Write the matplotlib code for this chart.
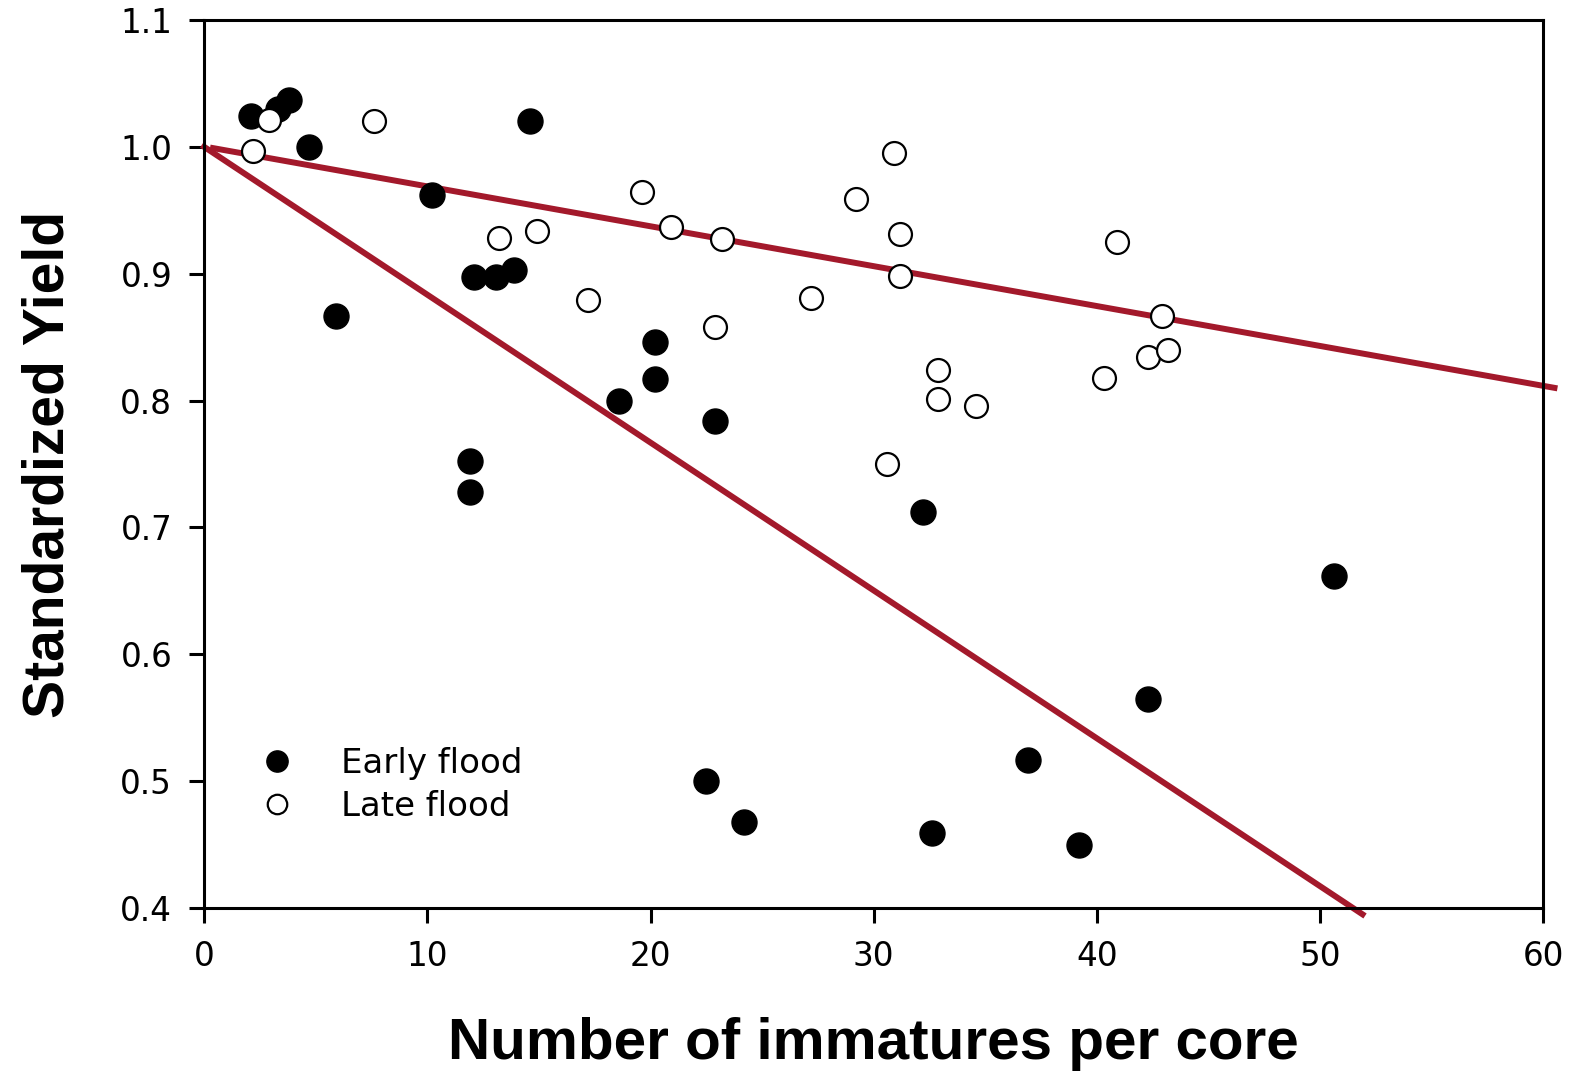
import matplotlib
matplotlib.use("Agg")
import matplotlib.pyplot as plt
import numpy as np

plt.rcParams['font.family'] = ['Liberation Sans', 'DejaVu Sans']

early_x = [2.1, 3.3, 3.8, 4.7, 14.6, 10.2, 5.9, 12.1, 13.1, 13.9, 11.9, 11.9,
           18.6, 20.2, 20.2, 22.9, 32.2, 50.6, 42.3, 36.9, 22.5, 24.2, 32.6, 39.2]
early_y = [1.024, 1.030, 1.037, 1.000, 1.020, 0.962, 0.867, 0.897, 0.897, 0.903, 0.752, 0.728,
           0.800, 0.846, 0.817, 0.784, 0.712, 0.662, 0.565, 0.517, 0.500, 0.468, 0.459, 0.450]

late_x = [2.2, 2.9, 7.6, 19.6, 20.9, 23.2, 13.2, 14.9, 17.2, 22.9, 27.2, 29.2, 30.9,
          31.2, 31.2, 32.9, 32.9, 34.6, 30.6, 40.9, 42.9, 42.3, 43.2, 40.3]
late_y = [0.997, 1.021, 1.020, 0.964, 0.937, 0.927, 0.928, 0.934, 0.879, 0.858, 0.881, 0.959, 0.995,
          0.931, 0.898, 0.824, 0.801, 0.796, 0.750, 0.925, 0.867, 0.834, 0.840, 0.818]

late_fit_x = [0.4, 60.5]
late_fit_y = [0.999, 0.810]
early_fit_x = [0.0, 51.9]
early_fit_y = [1.000, 0.395]

xticks = [0, 10, 20, 30, 40, 50, 60]
yticks = [0.4, 0.5, 0.6, 0.7, 0.8, 0.9, 1.0, 1.1]

fig = plt.figure(figsize=(15.7, 10.73), dpi=100)
ax = fig.add_axes([0.130, 0.1538, 0.853, 0.8276])

red = '#A3192B'
ax.plot(late_fit_x, late_fit_y, color=red, lw=4.3, clip_on=False, zorder=2)
ax.plot(early_fit_x, early_fit_y, color=red, lw=4.3, clip_on=False, zorder=2)

ax.plot(early_x, early_y, 'o', color='black', ms=18, mec='black', ls='none',
        label='Early flood', zorder=3)
ax.plot(late_x, late_y, 'o', mfc='white', mec='black', mew=1.6, ms=16.5, ls='none',
        label='Late flood', zorder=3)

ax.set_xlim(0, 60)
ax.set_ylim(0.4, 1.1)
ax.set_xticks(xticks)
ax.set_xticklabels([str(v) for v in xticks])
ax.set_yticks(yticks)
ax.set_yticklabels([f"{v:.1f}" for v in yticks])

for s in ax.spines.values():
    s.set_linewidth(2.2)
tick_font = ['DejaVu Sans']
ax.tick_params(direction='out', length=11, width=2.2, labelsize=23.5)
ax.tick_params(axis='x', pad=12)
ax.tick_params(axis='y', pad=12)
for lab in ax.get_xticklabels() + ax.get_yticklabels():
    lab.set_family(tick_font)

ax.set_xlabel('Number of immatures per core', fontsize=42, fontweight='bold', labelpad=32)
ax.set_ylabel('Standardized Yield', fontsize=41, fontweight='bold', labelpad=32)

leg = ax.legend(loc='lower left', bbox_to_anchor=(0.016, 0.061), frameon=False,
                prop={'family': 'DejaVu Sans', 'size': 24.5},
                handletextpad=1.3, labelspacing=0.3, markerscale=0.85, handlelength=1.2)

fig.savefig('out.png', dpi=100)
